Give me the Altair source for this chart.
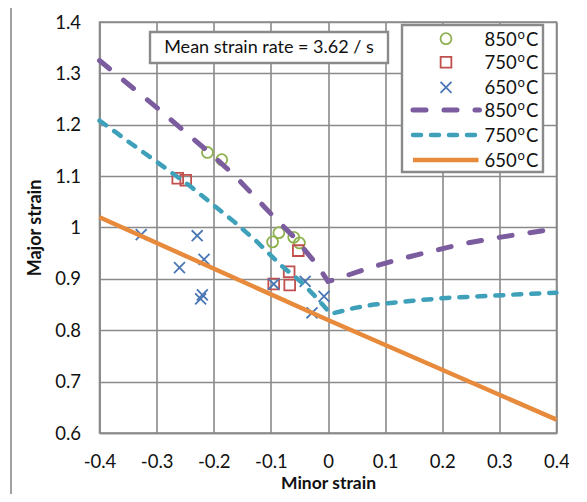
import altair as alt
import pandas as pd

# ---------------- data ----------------
x_ticks = [-0.4, -0.3, -0.2, -0.1, 0.0, 0.1, 0.2, 0.3, 0.4]
y_ticks = [0.6, 0.7, 0.8, 0.9, 1.0, 1.1, 1.2, 1.3, 1.4]

circ850_x = [-0.211, -0.186, -0.097, -0.086, -0.060, -0.050]
circ850_y = [1.146, 1.132, 0.972, 0.990, 0.981, 0.970]

sq750_x = [-0.263, -0.249, -0.095, -0.068, -0.067, -0.052]
sq750_y = [1.096, 1.092, 0.890, 0.914, 0.888, 0.955]

x650_x = [-0.327, -0.229, -0.260, -0.217, -0.220, -0.223, -0.095, -0.040, -0.007, -0.028]
x650_y = [0.986, 0.984, 0.922, 0.938, 0.869, 0.861, 0.890, 0.895, 0.866, 0.834]

c850_x = [-0.4, -0.342, -0.295, -0.252, -0.208, -0.165, -0.130, -0.089, -0.060, -0.019,
          0.0, 0.01, 0.074, 0.127, 0.179, 0.231, 0.289, 0.342, 0.4]
c850_y = [1.325, 1.272, 1.229, 1.188, 1.146, 1.103, 1.062, 1.014, 0.982, 0.927,
          0.895, 0.898, 0.922, 0.939, 0.953, 0.967, 0.979, 0.988, 0.998]

c750_x = [-0.4, -0.371, -0.348, -0.295, -0.243, -0.193, -0.164, -0.124, -0.083, -0.048,
          -0.025, 0.005, 0.045, 0.080, 0.144, 0.208, 0.266, 0.336, 0.4]
c750_y = [1.208, 1.185, 1.166, 1.124, 1.082, 1.037, 1.011, 0.972, 0.927, 0.895,
          0.869, 0.832, 0.843, 0.850, 0.857, 0.863, 0.866, 0.870, 0.873]

c650_x = [-0.4, 0.0, 0.4]
c650_y = [1.02, 0.82, 0.626]

legend_nums = ["850", "750", "650", "850", "750", "650"]
annotation = "Mean strain rate = 3.62 / s"

# ---------------- styling ----------------
FONT = "Lato"
GRID = "#8a8a8a"
C_GREEN = "#8DB14E"
C_RED = "#C0504D"
C_BLUE = "#4A77B4"
C_PURPLE = "#7B5C9E"
C_TEAL = "#3FA0BA"
C_ORANGE = "#E88A3C"

W, H = 457, 411

xs = alt.Scale(domain=[-0.4, 0.4], nice=False, zero=False)
ys = alt.Scale(domain=[0.6, 1.4], nice=False, zero=False)

X = alt.X("x:Q", scale=xs, axis=alt.Axis(
    values=x_ticks, title="Minor strain", grid=True, labelFlush=False,
    labelExpr="datum.value == 0 ? '0' : toString(round(datum.value*10)/10)",
    tickSize=0, labelPadding=19, titlePadding=4, titleFontSize=17.5))
Y = alt.Y("y:Q", scale=ys, axis=alt.Axis(
    values=y_ticks, title="Major strain", grid=True, labelFlush=False,
    labelExpr="toString(round(datum.value*10)/10)",
    tickSize=0, labelPadding=19, titlePadding=10))

one = pd.DataFrame({"a": [0]})

frame = alt.Chart(one).mark_rect(fillOpacity=0, stroke=GRID, strokeWidth=1.6).encode(
    x=alt.value(-88.5), x2=alt.value(620), y=alt.value(-16), y2=alt.value(620))


def pts(xv, yv):
    return pd.DataFrame({"x": xv, "y": yv})


circles = alt.Chart(pts(circ850_x, circ850_y)).mark_point(
    shape="circle", filled=False, size=120, strokeWidth=1.8, color=C_GREEN, opacity=1
).encode(x=X, y=Y)

squares = alt.Chart(pts(sq750_x, sq750_y)).mark_point(
    shape="square", filled=False, size=115, strokeWidth=1.8, color=C_RED, opacity=1
).encode(x=X, y=Y)

crosses = alt.Chart(pts(x650_x, x650_y)).mark_point(
    shape="M-1,-1L1,1M1,-1L-1,1", filled=False, size=120, strokeWidth=1.8, color=C_BLUE, opacity=1
).encode(x=X, y=Y)

line850 = alt.Chart(pts(c850_x, c850_y)).mark_line(
    color=C_PURPLE, strokeWidth=5, strokeDash=[13, 18], strokeCap="round"
).encode(x=X, y=Y, order="idx:Q").transform_window(idx="row_number()")

line750 = alt.Chart(pts(c750_x, c750_y)).mark_line(
    color=C_TEAL, strokeWidth=4.5, strokeDash=[8, 10], strokeCap="round"
).encode(x=X, y=Y, order="idx:Q").transform_window(idx="row_number()")

line650 = alt.Chart(pts(c650_x, c650_y)).mark_line(
    color=C_ORANGE, strokeWidth=4.5
).encode(x=X, y=Y)

# annotation box
ann_box = alt.Chart(one).mark_rect(fill="white", stroke=GRID, strokeWidth=2.4).encode(
    x=alt.value(50.5), x2=alt.value(288.5), y=alt.value(10), y2=alt.value(41))
ann_text = alt.Chart(one).mark_text(font=FONT, fontSize=18, color="#111",
                                    align="center", baseline="middle").encode(
    x=alt.value(169.5), y=alt.value(26), text=alt.value(annotation))

# legend
leg_box = alt.Chart(one).mark_rect(fill="white", stroke=GRID, strokeWidth=2.4).encode(
    x=alt.value(302.5), x2=alt.value(443.5), y=alt.value(3), y2=alt.value(150))
rows = [16.7, 40.3, 65.3, 88.0, 113.0, 138.0]
leg = [leg_box]
leg.append(alt.Chart(one).mark_point(shape="circle", filled=False, size=120, strokeWidth=1.8,
                                     color=C_GREEN, opacity=1).encode(
    x=alt.value(346.5), y=alt.value(rows[0])))
leg.append(alt.Chart(one).mark_point(shape="square", filled=False, size=115, strokeWidth=1.8,
                                     color=C_RED, opacity=1).encode(
    x=alt.value(346.5), y=alt.value(rows[1])))
leg.append(alt.Chart(one).mark_point(shape="M-1,-1L1,1M1,-1L-1,1", filled=False, size=120,
                                     strokeWidth=1.8, color=C_BLUE, opacity=1).encode(
    x=alt.value(346.5), y=alt.value(rows[2])))
leg.append(alt.Chart(one).mark_rule(color=C_PURPLE, strokeWidth=5, strokeDash=[13, 18],
                                    strokeCap="round").encode(
    x=alt.value(313.5), x2=alt.value(380), y=alt.value(rows[3])))
leg.append(alt.Chart(one).mark_rule(color=C_TEAL, strokeWidth=4.5, strokeDash=[8, 10],
                                    strokeCap="round").encode(
    x=alt.value(313.5), x2=alt.value(380), y=alt.value(rows[4])))
leg.append(alt.Chart(one).mark_rule(color=C_ORANGE, strokeWidth=4.5).encode(
    x=alt.value(313.5), x2=alt.value(379), y=alt.value(rows[5])))
for i, n in enumerate(legend_nums):
    leg.append(alt.Chart(one).mark_text(font=FONT, fontSize=18.5, color="#111",
                                        align="left", baseline="middle").encode(
        x=alt.value(385), y=alt.value(rows[i] + 1), text=alt.value(n)))
    leg.append(alt.Chart(one).mark_text(font=FONT, fontSize=13, color="#111",
                                        align="left", baseline="middle").encode(
        x=alt.value(418), y=alt.value(rows[i] - 4), text=alt.value("o")))
    leg.append(alt.Chart(one).mark_text(font=FONT, fontSize=18.5, color="#111",
                                        align="left", baseline="middle").encode(
        x=alt.value(426.5), y=alt.value(rows[i] + 1), text=alt.value("C")))

chart = alt.layer(
    frame, circles, squares, crosses, line850, line750, line650,
    ann_box, ann_text, *leg
).properties(
    width=W, height=H,
    autosize=alt.AutoSizeParams(type="none"),
    padding={"left": 91.5, "top": 14, "right": 12, "bottom": 61},
    background="white",
).configure_view(stroke=GRID, strokeWidth=1.6).configure_axis(
    gridColor=GRID, gridWidth=1.6, gridOpacity=1,
    domainColor=GRID, domainWidth=1.6,
    labelFont=FONT, labelFontSize=18.5, labelColor="#111",
    titleFont=FONT, titleFontSize=18, titleFontWeight="bold", titleColor="#111",
)

chart.save("out.html", embed_options={"renderer": "svg", "actions": False})
